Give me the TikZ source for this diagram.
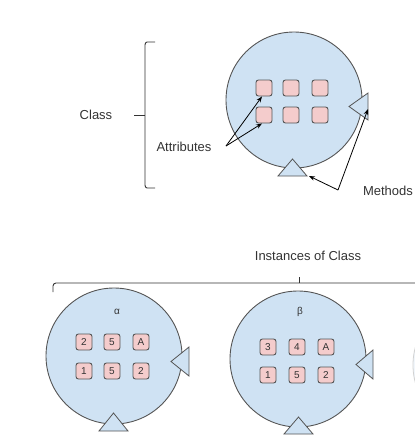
\documentclass[tikz,border=0pt]{standalone}
\usepackage{fontspec}
\setmainfont{Liberation Sans}
\usetikzlibrary{arrows.meta}
\definecolor{cblue}{HTML}{CFE2F3}
\definecolor{cpink}{HTML}{F4CCCC}
\definecolor{cline}{HTML}{555555}
\definecolor{ctext}{HTML}{333333}
\begin{document}
\begin{tikzpicture}[x=1pt,y=-1pt,
  obj/.style={circle,draw=cline,line width=0.9pt,fill=cblue,minimum size=136pt,inner sep=0pt},
  attr/.style={rounded corners=2.5pt,draw=cline,line width=0.9pt,fill=cpink,minimum size=16pt,inner sep=0pt,font=\fontsize{10}{10}\selectfont,text=ctext},
  meth/.style={draw=cline,line width=0.8pt,fill=cblue,line join=miter},
  lbl/.style={font=\fontsize{13}{13}\selectfont,text=ctext,inner sep=0pt},
  grk/.style={font=\fontsize{10}{10}\selectfont,text=ctext,inner sep=0pt},
  brk/.style={draw=ctext,line width=0.9pt},
  ptr/.style={draw=black,line width=0.8pt,-{Stealth[length=6pt,width=4.5pt]}}]
\useasboundingbox (0,0) rectangle (415,448);
% ---------- class ----------
\node[obj] (cls) at (294,100) {};
\foreach \x/\n in {264/1,291/2,320/3}{
  \node[attr] (a\n) at (\x,88) {};
  \node[attr] (b\n) at (\x,115) {};
}
\path[meth] (368,93) -- (349,106.5) -- (368,120) -- cycle;
\coordinate (mr) at (368,109);
\path[meth] (292.5,159) -- (278,176) -- (307,176) -- cycle;
\coordinate (mb) at (309,176);
% bracket
\draw[brk] (155,42) -- (147,42) to[out=180,in=90] (145,45) -- (145,185) to[out=-90,in=180] (147,188) -- (155,188);
\draw[brk] (134,115) -- (145,115);
\node[lbl] (clsl) at (96,115) {Class};
\node[lbl] (attl) at (184,147) {Attributes};
\coordinate (ap) at (226,146);
\draw[ptr] (ap) -- ([xshift=-2pt]a1.south);
\draw[ptr] (ap) -- ([xshift=-2pt]b1.south);
\node[lbl] (metl) at (388,191) {Methods};
\coordinate (mp) at (338,190);
\draw[ptr] (mp) -- (mb);
\draw[ptr] (mp) -- (mr);
% ---------- instances ----------
\node[lbl] (inst) at (308,256) {Instances of Class};
\draw[brk] (53,292) -- (53,286) to[out=90,in=180] (56,283) -- (415,283);
\draw[brk] (299,283) -- (299,277);
% third (faded) instance, cut by the edge
\begin{scope}
\clip (0,0) rectangle (415,448);
\draw[draw=gray!35,fill=cblue!30,line width=0.8pt] (481,365) circle[radius=68];
\end{scope}
% alpha
\node[obj] (ia) at (114,356) {};
\node[grk] (ial) at (117,312) {α};
\foreach \x/\n/\t/\u in {84/1/2/1,112/2/5/5,141/3/A/2}{
  \node[attr] (pa\n) at (\x,342) {\t};
  \node[attr] (qa\n) at (\x,371) {\u};
}
\path[meth] (189,347) -- (171,361.5) -- (189,376) -- cycle;
\path[meth] (113.5,413) -- (99,431) -- (128,431) -- cycle;
% beta
\node[obj] (ib) at (298,359) {};
\node[grk] (ibl) at (300,312) {β};
\foreach \x/\n/\t/\u in {268/1/3/1,297/2/4/5,326/3/A/2}{
  \node[attr] (pb\n) at (\x,347) {\t};
  \node[attr] (qb\n) at (\x,375) {\u};
}
\path[meth] (373,350) -- (356,364.5) -- (373,379) -- cycle;
\path[meth] (298.5,417) -- (284,434) -- (313,434) -- cycle;
\end{tikzpicture}
\end{document}
